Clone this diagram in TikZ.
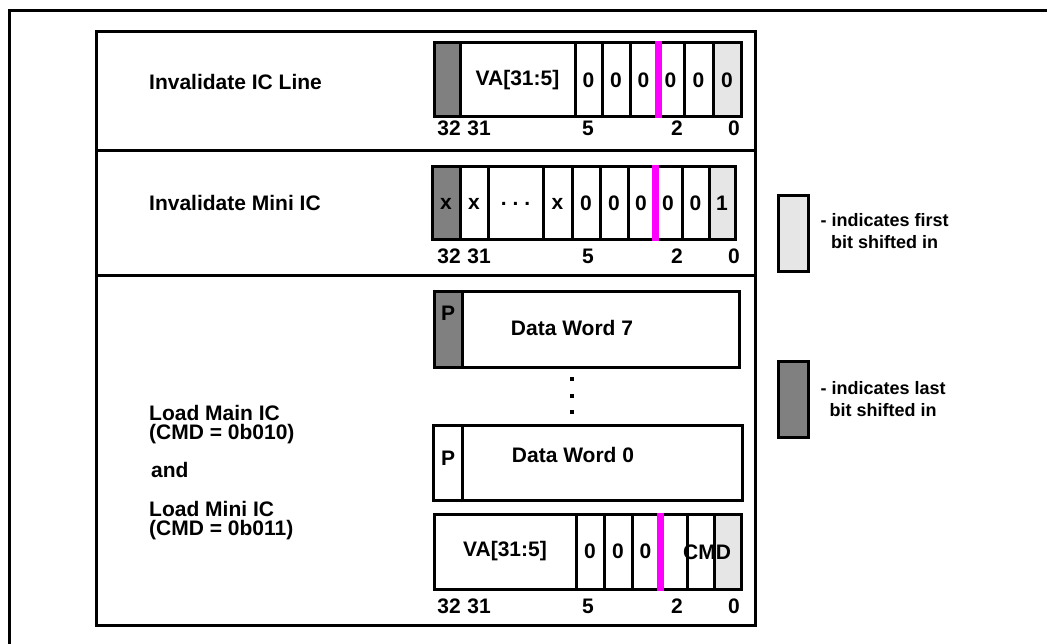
\documentclass[tikz,border=0pt]{standalone}
\usepackage{fontspec}
\setmainfont{Liberation Sans}
\usetikzlibrary{positioning}
\definecolor{lastgray}{HTML}{808080}
\definecolor{firstgray}{HTML}{E6E6E6}
\definecolor{bitmark}{HTML}{FF00FF}

\begin{document}
\begin{tikzpicture}[x=1pt,y=-1pt,
    every node/.style={font=\fontsize{21}{19}\selectfont\bfseries, inner sep=0pt},
    frame/.style={line width=3pt},
    cell/.style={draw, line width=3pt, inner sep=0pt},
    marker/.style={bitmark, line width=7pt},
    keybox/.style={draw, line width=3pt, minimum width=30pt, minimum height=76pt},
    keytext/.style={font=\fontsize{18}{22}\selectfont\bfseries, align=center}]
    \useasboundingbox (0,0) rectangle (1047,644);

    % page frame and command table
    \draw[frame] (9,644) -- (9,11) -- (1047,11);
    \draw[frame] (96,32) rectangle (755,625);
    \draw[frame] (96,151) -- (755,151);
    \draw[frame] (96,276) -- (755,276);

    % command names
    \node[anchor=west] (cmdline) at (149,82) {Invalidate IC Line};
    \node[anchor=west] (cmdmini) at (149,203) {Invalidate Mini IC};
    \node[anchor=west, align=left] (cmdmain) at (149,425) {Load Main IC\\(CMD = 0b010)};
    \node[anchor=west] (cmdand) at (151,470) {and};
    \node[anchor=west, align=left] (cmdload) at (149,521) {Load Mini IC\\(CMD = 0b011)};

    % Invalidate IC Line register
    \foreach \i/\xa/\xb/\fc/\txt in {0/434/460/lastgray/{}, 1/460/575/white/{VA[31:5]},
        2/575/602/white/0, 3/602/630/white/0, 4/630/657/white/0,
        5/657/684/white/0, 6/684/713/white/0, 7/713/741/firstgray/0} {
        \pgfmathsetmacro\cw{\xb-\xa}
        \node[cell, fill=\fc, minimum width=\cw pt, minimum height=74pt] (icl\i) at ({(\xa+\xb)/2},80) {\txt};
    }
    \draw[marker] (icl4.north east) -- (icl4.south east);

    % Invalidate Mini IC register
    \foreach \i/\xa/\xb/\fc/\txt in {0/432/460/lastgray/x, 1/460/488/white/x,
        2/488/543/white/{.\ .\ .}, 3/543/572/white/x, 4/572/600/white/0,
        5/600/628/white/0, 6/628/654/white/0, 7/654/682/white/0,
        8/682/709/white/0, 9/709/735/firstgray/1} {
        \pgfmathsetmacro\cw{\xb-\xa}
        \node[cell, fill=\fc, minimum width=\cw pt, minimum height=73pt] (mic\i) at ({(\xa+\xb)/2},203.5) {\txt};
    }
    \draw[marker] (mic6.north east) -- (mic6.south east);

    % Load IC data words
    \node[cell, minimum width=305pt, minimum height=75pt] (dw7) at (586.5,329.5) {};
    \node[cell, fill=lastgray, minimum width=28pt, minimum height=75pt] (dw7p) at (448,329.5) {};
    \node (dw7plab) at (448,313) {P};
    \node (dw7lab) at (572,328) {Data Word 7};
    \foreach \y [count=\k] in {379,396,412}
        \node[fill, minimum size=3.5pt] (vdot\k) at (572,\y) {};
    \node[cell, minimum width=309pt, minimum height=75pt] (dw0) at (587.5,462.5) {};
    \node[cell, minimum width=29pt, minimum height=75pt] (dw0p) at (447.5,462.5) {};
    \node (dw0plab) at (448,458) {P};
    \node (dw0lab) at (573,455) {Data Word 0};

    % Load IC address word
    \foreach \i/\xa/\xb/\fc/\txt in {0/434/576/white/{VA[31:5]}, 1/576/604/white/0,
        2/604/632/white/0, 3/632/659/white/0, 4/659/687/white/{},
        5/687/714/white/{}, 6/714/741/firstgray/{}} {
        \pgfmathsetmacro\cw{\xb-\xa}
        \node[cell, fill=\fc, minimum width=\cw pt, minimum height=75pt] (lic\i) at ({(\xa+\xb)/2},551.5) {\txt};
    }
    \node (cmdfield) at (707,552) {CMD};
    \draw[marker] (lic3.north east) -- (lic3.south east);

    % bit numbers
    \foreach \r/\y in {t/128, m/256, b/606} {
        \node (bit32\r) at (449,\y) {32};
        \node (bit31\r) at (479,\y) {31};
        \node (bit5\r) at (588,\y) {5};
        \node (bit2\r) at (677,\y) {2};
        \node (bit0\r) at (734,\y) {0};
    }

    % key
    \node[keybox, fill=firstgray] (firstkey) at (793,234) {};
    \node[keytext, right=11pt of firstkey, yshift=3pt] (firsttext) {- indicates first\\bit shifted in};
    \node[keybox, fill=lastgray] (lastkey) at (793,399) {};
    \node[keytext, right=11pt of lastkey] (lasttext) {- indicates last\\bit shifted in};
\end{tikzpicture}
\end{document}
